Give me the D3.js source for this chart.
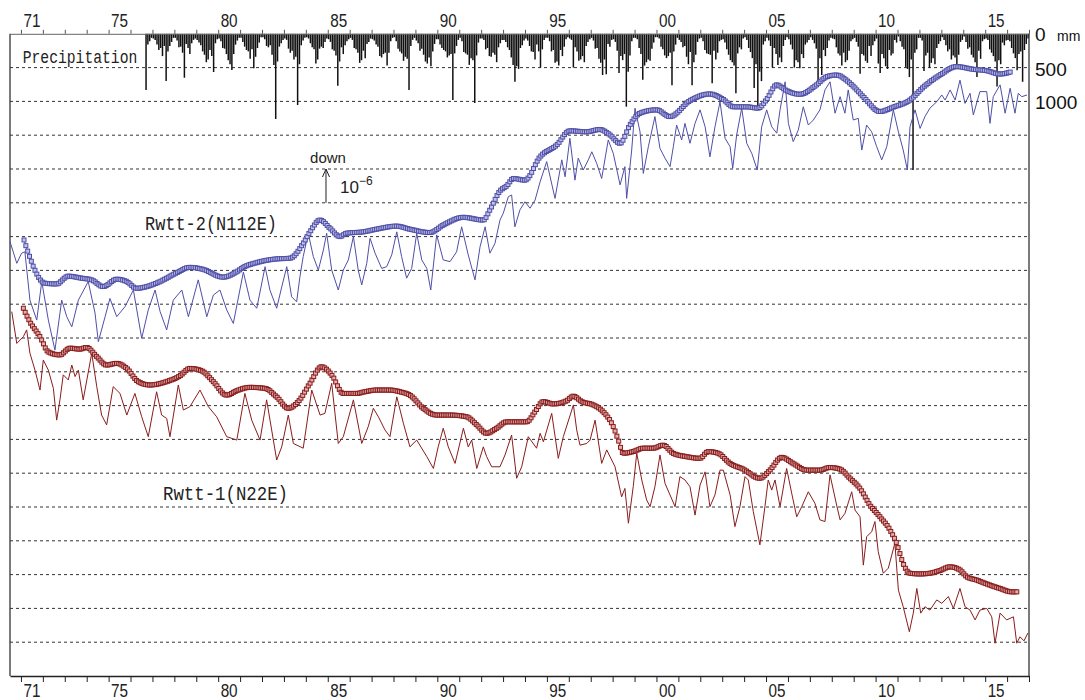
<!DOCTYPE html>
<html>
<head>
<meta charset="utf-8">
<script src="https://cdn.jsdelivr.net/npm/d3@7"></script>
<style>
  body { margin: 0; background: #fff; }
  svg { display: block; }
</style>
</head>
<body>
<svg id="chart" width="1085" height="700"></svg>
<script>
// ---- data (strain in 1e-6 units, one grid step = 1e-6; time in decimal years) ----
var yearTicks = d3.range(1971, 2018);
var yearLabels = [1971, 1975, 1980, 1985, 1990, 1995, 2000, 2005, 2010, 2015];
var gridLevels = d3.range(1, 19);
var precipLabels = [500, 1000];

// monthly precipitation (mm), from Sep 1976
var precipStart = 1976 + 8 / 12;
var precip = [
  830, 160, 110, 60,
  70, 90, 160, 240, 210, 330, 180, 700, 260, 180, 120, 60,
  60, 100, 200, 190, 280, 650, 150, 210, 300, 140, 90, 70,
  90, 130, 170, 260, 310, 420, 380, 240, 330, 565, 140, 80,
  70, 110, 210, 220, 300, 390, 450, 535, 300, 160, 100, 60,
  60, 120, 190, 240, 260, 370, 230, 510, 340, 210, 130, 50,
  50, 80, 180, 200, 170, 310, 460, 1260, 410, 190, 140, 90,
  70, 90, 220, 280, 250, 380, 340, 1053, 450, 170, 100, 60,
  50, 70, 140, 200, 230, 440, 380, 220, 190, 210, 120, 70,
  80, 120, 230, 250, 320, 770, 410, 200, 300, 170, 110, 80,
  60, 90, 210, 230, 280, 430, 390, 250, 360, 150, 120, 70,
  80, 100, 160, 190, 330, 350, 300, 280, 470, 280, 110, 60,
  50, 110, 220, 260, 290, 400, 340, 370, 830, 180, 90, 60,
  100, 140, 250, 220, 310, 410, 440, 350, 480, 260, 150, 80,
  80, 160, 210, 240, 260, 350, 320, 300, 980, 290, 180, 90,
  60, 110, 270, 290, 310, 460, 360, 390, 1025, 320, 130, 70,
  70, 90, 230, 210, 330, 340, 280, 310, 420, 200, 140, 90,
  90, 120, 200, 240, 350, 460, 710, 480, 520, 210, 170, 100,
  70, 100, 180, 260, 270, 380, 160, 260, 500, 230, 90, 60,
  60, 110, 260, 240, 430, 410, 470, 240, 330, 190, 80, 50,
  70, 90, 500, 200, 260, 400, 380, 330, 420, 180, 120, 80,
  60, 100, 220, 210, 370, 430, 610, 380, 600, 150, 190, 90,
  80, 120, 250, 580, 330, 390, 300, 1078, 560, 320, 110, 60,
  60, 80, 210, 300, 680, 470, 420, 380, 400, 220, 130, 50,
  50, 70, 190, 230, 320, 360, 330, 280, 760, 260, 160, 60,
  90, 120, 200, 180, 340, 450, 270, 760, 420, 310, 120, 70,
  60, 110, 240, 290, 300, 310, 730, 250, 380, 280, 110, 90,
  80, 130, 230, 310, 390, 420, 470, 880, 290, 200, 230, 70,
  50, 90, 210, 270, 360, 800, 450, 1078, 560, 700, 160, 110,
  60, 100, 180, 500, 210, 300, 460, 350, 420, 180, 90, 50,
  80, 160, 230, 500, 390, 420, 510, 300, 360, 160, 130, 90,
  50, 90, 140, 220, 700, 360, 610, 240, 330, 210, 100, 60,
  70, 80, 200, 290, 320, 470, 280, 420, 390, 250, 110, 80,
  60, 120, 190, 590, 300, 320, 400, 430, 180, 330, 170, 110,
  70, 440, 580, 300, 360, 480, 520, 240, 320, 290, 90, 130,
  40, 110, 190, 230, 490, 520, 640, 380, 2015, 280, 230, 60,
  60, 100, 550, 320, 280, 500, 430, 360, 450, 210, 150, 110,
  50, 90, 170, 260, 230, 380, 320, 350, 460, 310, 120, 90,
  40, 120, 220, 200, 310, 350, 420, 640, 250, 370, 110, 80,
  70, 90, 230, 280, 330, 410, 780, 390, 450, 130, 170, 100,
  90, 110, 210, 290, 360, 540, 300, 260, 710, 240, 150, 70];

// Rwtt-2 (N112E), running mean and raw
var rwtt2Avg = [[1971.14,12.90],[1972.10,11.62],[1972.63,11.60],[1973.16,11.83],[1973.77,11.77],[1974.23,11.72],
  [1974.76,11.52],[1975.37,11.74],[1975.83,11.67],[1976.28,11.47],[1976.74,11.52],[1977.35,11.67],[1978.11,11.93],
  [1978.71,12.09],[1979.32,12.03],[1980.23,11.80],[1980.85,11.96],[1981.15,12.09],[1981.76,12.23],[1982.67,12.34],
  [1983.28,12.36],[1983.88,12.80],[1984.19,13.14],[1984.65,13.49],[1985.10,13.25],[1985.56,13.00],[1985.86,13.10],
  [1986.62,13.14],[1987.23,13.22],[1988.15,13.31],[1988.75,13.22],[1989.67,13.12],[1990.27,13.34],[1991.19,13.57],
  [1992.10,13.49],[1992.40,13.79],[1992.86,14.35],[1993.17,14.50],[1993.47,14.72],[1994.00,14.67],[1994.69,15.36],
  [1995.45,15.71],[1996.05,16.13],[1996.82,16.10],[1997.42,16.17],[1997.88,16.01],[1998.34,15.76],[1998.79,16.30],
  [1999.25,16.65],[2000.01,16.75],[2000.62,16.55],[2001.53,17.02],[2002.44,17.22],[2003.05,17.06],[2003.51,16.84],
  [2004.12,16.84],[2004.65,16.80],[2005.03,17.06],[2005.49,17.49],[2005.94,17.32],[2006.55,17.21],[2007.31,17.49],
  [2007.77,17.73],[2008.22,17.78],[2008.83,17.54],[2009.44,17.14],[2010.20,16.70],[2010.81,16.83],[2011.57,17.04],
  [2012.18,17.42],[2012.94,17.78],[2013.70,18.03],[2014.46,17.95],[2015.07,17.91],[2015.68,17.81],[2016.21,17.88]];

var rwtt2 = [[1970.50,12.85],[1970.81,12.21],[1971.03,12.51],[1971.18,12.55],[1971.41,11.12],[1971.72,10.53],
  [1971.95,11.67],[1972.25,10.53],[1972.55,9.64],[1972.86,11.12],[1973.09,10.63],[1973.32,10.33],[1973.62,11.12],
  [1974.07,11.67],[1974.38,10.74],[1974.53,9.89],[1974.84,10.63],[1975.06,11.17],[1975.37,10.63],[1975.75,10.93],
  [1976.13,11.42],[1976.51,9.99],[1976.81,10.83],[1977.12,11.42],[1977.35,10.78],[1977.65,10.24],[1977.95,11.12],
  [1978.34,11.42],[1978.64,10.63],[1979.09,11.72],[1979.48,10.63],[1979.78,11.27],[1980.08,11.42],[1980.39,10.83],
  [1980.69,10.43],[1981.15,11.95],[1981.45,11.12],[1981.76,10.88],[1982.14,12.11],[1982.36,11.42],[1982.67,10.88],
  [1982.90,11.51],[1983.13,12.11],[1983.35,11.22],[1983.58,11.07],[1983.73,11.81],[1983.88,12.41],[1984.11,13.10],
  [1984.34,12.41],[1984.57,12.01],[1984.80,12.60],[1984.95,13.10],[1985.18,12.01],[1985.48,11.42],[1985.71,12.01],
  [1985.94,12.31],[1986.17,13.00],[1986.39,12.01],[1986.55,11.57],[1986.78,12.21],[1986.93,12.95],[1987.16,12.51],
  [1987.46,12.06],[1987.69,12.11],[1987.92,12.46],[1988.15,13.14],[1988.37,12.41],[1988.60,11.77],[1988.83,12.06],
  [1989.06,13.10],[1989.29,12.31],[1989.52,12.06],[1989.70,11.42],[1989.97,13.05],[1990.27,12.31],[1990.58,12.26],
  [1990.88,12.55],[1991.11,13.29],[1991.41,12.46],[1991.72,11.72],[1991.95,12.70],[1992.18,13.29],[1992.40,12.51],
  [1992.63,12.80],[1992.86,13.49],[1993.01,13.69],[1993.24,14.18],[1993.39,14.23],[1993.54,13.29],[1993.77,13.79],
  [1994.00,14.03],[1994.23,13.84],[1994.46,14.08],[1994.69,14.62],[1994.99,15.22],[1995.37,14.13],[1995.68,15.27],
  [1995.83,14.77],[1996.05,15.91],[1996.28,14.67],[1996.43,15.32],[1996.66,14.97],[1996.89,15.27],[1997.05,15.51],
  [1997.27,15.17],[1997.50,14.72],[1997.80,15.86],[1998.03,15.46],[1998.34,14.53],[1998.56,15.07],[1998.64,14.13],
  [1998.87,15.56],[1999.02,16.80],[1999.25,16.10],[1999.40,14.87],[1999.63,15.66],[1999.93,16.55],[2000.16,15.61],
  [2000.39,15.32],[2000.62,15.07],[2000.77,15.66],[2000.92,16.30],[2001.15,15.86],[2001.30,16.35],[2001.53,15.76],
  [2001.76,16.35],[2001.99,16.75],[2002.22,16.25],[2002.44,15.36],[2002.67,16.25],[2002.90,16.99],[2003.13,15.91],
  [2003.36,15.66],[2003.48,15.02],[2003.66,16.01],[2003.89,16.80],[2004.12,15.76],[2004.35,15.46],[2004.60,14.97],
  [2004.80,16.25],[2005.03,16.75],[2005.26,16.25],[2005.49,16.06],[2005.64,16.75],[2005.87,17.58],[2006.02,16.35],
  [2006.24,15.81],[2006.47,16.15],[2006.70,16.84],[2006.93,16.30],[2007.16,16.45],[2007.46,16.75],[2007.69,17.34],
  [2007.92,17.58],[2008.15,16.65],[2008.38,17.14],[2008.60,16.65],[2008.75,17.34],[2008.98,16.45],[2009.21,16.50],
  [2009.37,15.56],[2009.59,16.30],[2009.82,16.10],[2010.05,15.66],[2010.28,15.27],[2010.51,15.66],[2010.81,16.75],
  [2011.04,16.10],[2011.26,15.56],[2011.45,14.97],[2011.57,16.25],[2011.80,16.75],[2012.03,16.20],[2012.25,16.55],
  [2012.48,16.80],[2012.79,16.99],[2013.02,17.19],[2013.17,17.04],[2013.40,17.34],[2013.63,17.04],[2013.85,17.63],
  [2014.08,16.94],[2014.31,17.24],[2014.46,16.60],[2014.76,17.29],[2015.07,17.29],[2015.22,16.35],[2015.37,17.14],
  [2015.68,17.49],[2015.91,16.65],[2016.14,17.39],[2016.36,16.65],[2016.51,17.24],[2016.67,17.14],[2016.91,17.19]];

// Rwtt-1 (N22E), running mean and raw
var rwtt1Avg = [[1971.11,10.88],[1971.41,10.48],[1971.87,10.04],[1972.25,9.59],[1972.78,9.50],[1973.24,9.70],
  [1973.69,9.67],[1974.00,9.72],[1974.46,9.45],[1974.91,9.20],[1975.37,9.25],[1975.83,9.10],[1976.35,8.71],
  [1976.89,8.61],[1977.65,8.71],[1978.26,8.88],[1978.71,9.10],[1979.25,9.03],[1979.78,8.71],[1980.39,8.31],
  [1980.85,8.44],[1981.45,8.54],[1982.14,8.51],[1982.67,8.26],[1983.20,7.92],[1983.66,8.12],[1984.19,8.66],
  [1984.72,9.15],[1985.18,8.91],[1985.71,8.36],[1986.32,8.36],[1986.70,8.41],[1987.23,8.46],[1987.84,8.46],
  [1988.30,8.41],[1988.75,8.31],[1989.36,7.92],[1989.97,7.72],[1990.58,7.72],[1991.34,7.67],[1991.80,7.43],
  [1992.25,7.18],[1992.71,7.33],[1993.17,7.52],[1993.69,7.52],[1994.08,7.52],[1994.46,7.82],[1994.84,8.12],
  [1995.29,8.05],[1995.90,8.14],[1996.21,8.28],[1996.59,8.12],[1997.12,8.02],[1997.57,7.82],[1998.03,7.38],
  [1998.26,6.98],[1998.49,6.59],[1998.94,6.64],[1999.40,6.74],[1999.86,6.74],[2000.31,6.83],[2000.77,6.59],
  [2001.38,6.49],[2001.99,6.44],[2002.36,6.64],[2002.82,6.59],[2003.36,6.29],[2003.96,6.12],[2004.72,5.85],
  [2005.18,6.09],[2005.72,6.47],[2006.24,6.29],[2006.86,6.09],[2007.46,6.09],[2007.92,6.17],[2008.38,6.12],
  [2008.83,5.85],[2009.29,5.55],[2009.74,5.06],[2010.20,4.71],[2010.66,4.32],[2010.96,3.93],[2011.26,3.33],
  [2011.57,3.04],[2012.03,3.02],[2012.48,3.04],[2012.94,3.12],[2013.40,3.23],[2013.85,3.14],[2014.16,2.94],
  [2014.61,2.84],[2015.22,2.69],[2015.68,2.59],[2016.21,2.49],[2016.45,2.49]];

var rwtt1 = [[1970.58,10.78],[1970.81,9.84],[1970.96,9.94],[1971.11,10.04],[1971.26,10.24],[1971.41,9.55],
  [1971.64,9.05],[1971.87,8.46],[1972.02,9.35],[1972.25,9.05],[1972.48,8.51],[1972.63,7.57],[1972.78,8.17],
  [1972.93,8.91],[1973.16,8.76],[1973.32,9.20],[1973.47,8.86],[1973.62,9.05],[1973.84,8.17],[1974.23,9.55],
  [1974.46,8.56],[1974.68,7.72],[1974.91,7.43],[1975.21,8.56],[1975.52,8.36],[1975.83,7.72],[1976.20,8.36],
  [1976.51,7.67],[1976.81,7.08],[1977.19,8.41],[1977.42,7.72],[1977.65,7.62],[1977.80,7.08],[1978.18,8.61],
  [1978.41,7.87],[1978.71,7.97],[1979.17,8.46],[1979.55,7.97],[1979.93,7.67],[1980.39,7.08],[1980.85,6.98],
  [1981.22,8.36],[1981.53,7.57],[1981.91,6.98],[1982.21,8.17],[1982.67,6.39],[1982.90,6.78],[1983.20,7.72],
  [1983.43,6.88],[1983.88,6.74],[1984.27,8.46],[1984.65,7.72],[1984.87,7.77],[1985.18,8.66],[1985.48,6.88],
  [1985.71,7.08],[1986.17,8.17],[1986.55,6.88],[1986.85,7.38],[1987.08,7.92],[1987.31,7.67],[1987.61,7.28],
  [1987.84,7.08],[1988.15,8.26],[1988.45,7.48],[1988.75,6.78],[1989.06,6.98],[1989.52,6.49],[1989.82,6.14],
  [1990.04,6.78],[1990.27,7.33],[1990.50,6.78],[1990.81,6.29],[1991.19,7.33],[1991.41,6.78],[1991.57,6.98],
  [1991.80,6.14],[1992.10,6.78],[1992.25,6.49],[1992.48,6.19],[1992.86,6.19],[1993.09,6.54],[1993.39,7.13],
  [1993.62,5.85],[1993.85,6.19],[1994.15,7.08],[1994.53,6.74],[1994.69,7.18],[1994.84,6.93],[1995.22,7.77],
  [1995.52,6.44],[1995.75,7.08],[1996.21,8.02],[1996.36,7.28],[1996.51,6.83],[1996.82,6.88],[1996.97,6.98],
  [1997.20,7.57],[1997.50,6.29],[1997.73,6.69],[1998.11,6.19],[1998.41,5.30],[1998.56,5.55],[1998.72,4.52],
  [1998.94,5.60],[1999.10,6.59],[1999.33,5.80],[1999.55,5.21],[1999.71,5.01],[1999.93,5.60],[2000.16,6.54],
  [2000.39,5.70],[2000.85,5.01],[2001.07,5.90],[2001.30,5.80],[2001.53,5.60],[2001.76,4.76],[2001.99,5.65],
  [2002.22,6.04],[2002.44,5.01],[2002.67,5.36],[2002.90,6.09],[2003.05,6.09],[2003.36,5.36],[2003.58,4.42],
  [2003.81,5.01],[2004.04,5.90],[2004.19,5.80],[2004.42,4.86],[2004.72,3.88],[2004.95,5.01],[2005.10,5.80],
  [2005.26,5.50],[2005.41,5.80],[2005.64,5.01],[2005.94,6.14],[2006.17,5.41],[2006.40,4.71],[2006.63,5.01],
  [2006.93,5.45],[2007.23,5.11],[2007.46,4.62],[2007.69,4.57],[2007.92,5.95],[2008.22,5.06],[2008.38,4.62],
  [2008.60,4.81],[2008.91,5.45],[2009.06,4.91],[2009.29,4.71],[2009.44,3.28],[2009.59,4.12],[2009.82,4.27],
  [2009.97,4.57],[2010.12,3.68],[2010.35,3.04],[2010.58,3.19],[2010.88,3.93],[2011.04,2.54],[2011.26,2.05],
  [2011.54,1.31],[2011.72,1.86],[2011.88,2.59],[2012.06,1.86],[2012.25,2.05],[2012.48,1.95],[2012.79,2.25],
  [2013.02,2.15],[2013.32,2.35],[2013.55,2.00],[2013.85,2.59],[2014.08,2.05],[2014.31,1.95],[2014.54,1.66],
  [2014.76,1.95],[2015.07,2.00],[2015.30,1.75],[2015.45,0.97],[2015.68,1.86],[2015.98,1.66],[2016.29,1.75],
  [2016.44,0.97],[2016.59,1.16],[2016.77,1.04],[2016.95,1.27]];

// ---- scales ----
var svg = d3.select("#chart");
var x = d3.scaleLinear().domain([1970.5, 2017]).range([10, 1029]);
var y = d3.scaleLinear().domain([0, 19]).range([676, 33.8]);
var yP = d3.scaleLinear().domain([0, 1000]).range([33.8, 101.4]);
var two = function(yr){ return d3.format("02d")(yr % 100); };
var sans = "'Liberation Sans',Arial,sans-serif";
var mono = "'Liberation Mono','DejaVu Sans Mono',monospace";

// grid
svg.append("g").selectAll("line").data(gridLevels).enter().append("line")
  .attr("x1", x.range()[0]).attr("x2", x.range()[1])
  .attr("y1", function(d){ return y(d); }).attr("y2", function(d){ return y(d); })
  .attr("stroke", "#333").attr("stroke-width", 1).attr("stroke-dasharray", "3,3");

// precipitation bars, hanging from the top axis
svg.append("g").selectAll("line").data(precip).enter().append("line")
  .attr("x1", function(d, i){ return x(precipStart + (i + 0.5) / 12); })
  .attr("x2", function(d, i){ return x(precipStart + (i + 0.5) / 12); })
  .attr("y1", yP(0)).attr("y2", function(d){ return yP(d); })
  .attr("stroke", "#111").attr("stroke-width", 1.5);

// frame and axes
var topAxis = svg.append("g").attr("transform", "translate(0," + yP(0) + ")")
  .call(d3.axisTop(x).tickValues(yearTicks).tickSize(4).tickSizeOuter(0).tickFormat(""));
topAxis.select(".domain").attr("stroke", "#666");
topAxis.selectAll(".tick line").attr("stroke", "#555");
var botAxis = svg.append("g").attr("transform", "translate(0," + y(0) + ")")
  .call(d3.axisBottom(x).tickValues(yearTicks).tickSize(6).tickSizeOuter(0).tickFormat(""));
botAxis.select(".domain").attr("stroke", "#222").attr("stroke-width", 1.3);
botAxis.selectAll(".tick line").attr("stroke", "#222");
[x.range()[0], x.range()[1]].forEach(function(px){
  svg.append("line").attr("x1", px).attr("x2", px).attr("y1", yP(0)).attr("y2", y(0))
    .attr("stroke", "#333").attr("stroke-width", 1.3);
});

// year labels top and bottom (narrow digits)
[27, 697].forEach(function(ty){
  svg.append("g").selectAll("text").data(yearLabels).enter().append("text")
    .attr("x", function(d){ return x(d + 0.5) - 8.5; }).attr("y", ty)
    .attr("font-family", sans).attr("font-size", 18)
    .attr("textLength", 17).attr("lengthAdjust", "spacingAndGlyphs")
    .attr("fill", "#222").text(two);
});

// precipitation scale labels
svg.append("text").attr("x", 1035).attr("y", yP(0) + 7).attr("font-family", sans)
  .attr("font-size", 19).attr("fill", "#111").text("0");
svg.append("text").attr("x", 1057).attr("y", yP(0) + 7).attr("font-family", sans)
  .attr("font-size", 14).attr("fill", "#111").text("mm");
svg.append("g").selectAll("text").data(precipLabels).enter().append("text")
  .attr("x", 1035).attr("y", function(d){ return yP(d) + 8; })
  .attr("font-family", sans).attr("font-size", 19).attr("fill", "#111")
  .text(function(d){ return d; });

svg.append("text").attr("x", 22.7).attr("y", 63).attr("font-family", mono).attr("font-size", 19)
  .attr("textLength", 114.6).attr("lengthAdjust", "spacingAndGlyphs").attr("fill", "#222").text("Precipitation");

// series
function drawSeries(raw, avg, col, light) {
  var g = svg.append("g");
  g.append("path").datum(raw)
    .attr("d", d3.line().x(function(d){ return x(d[0]); }).y(function(d){ return y(d[1]); }))
    .attr("fill", "none").attr("stroke", col).attr("stroke-width", 1);
  var path = g.append("path").datum(avg)
    .attr("d", d3.line().curve(d3.curveMonotoneX).x(function(d){ return x(d[0]); }).y(function(d){ return y(d[1]); }))
    .attr("fill", "none").attr("stroke", col).attr("stroke-width", 1);
  // one square marker per month along the running-mean curve
  var node = path.node(), L = node.getTotalLength(), pts = [];
  for (var l = 0; l <= L; l += 0.25) pts.push(node.getPointAtLength(l));
  var t0 = avg[0][0], t1 = avg[avg.length - 1][0], marks = [], j = 0;
  for (var t = t0; t <= t1 + 1e-6; t += 1 / 12) {
    var px = x(t);
    while (j < pts.length - 1 && pts[j].x < px) j++;
    marks.push([px, pts[j].y]);
  }
  g.append("g").selectAll("rect").data(marks).enter().append("rect")
    .attr("x", function(d){ return d[0] - 2; }).attr("y", function(d){ return d[1] - 2; })
    .attr("width", 4).attr("height", 4)
    .attr("fill", light).attr("stroke", col).attr("stroke-width", 1);
}
drawSeries(rwtt2, rwtt2Avg, "#4f4fa8", "#c4c4ea");
drawSeries(rwtt1, rwtt1Avg, "#8a1c1c", "#e2b0b0");

// labels
svg.append("text").attr("x", 145).attr("y", 230).attr("font-family", mono).attr("font-size", 20)
  .attr("textLength", 132).attr("lengthAdjust", "spacingAndGlyphs").attr("fill", "#222").text("Rwtt-2(N112E)");
svg.append("text").attr("x", 163).attr("y", 500).attr("font-family", mono).attr("font-size", 20)
  .attr("textLength", 125).attr("lengthAdjust", "spacingAndGlyphs").attr("fill", "#222").text("Rwtt-1(N22E)");

// scale arrow: one grid step = 1e-6
var ax = x(1984.92);
svg.append("line").attr("x1", ax).attr("x2", ax).attr("y1", y(14)).attr("y2", y(15))
  .attr("stroke", "#222").attr("stroke-width", 1);
svg.append("path").attr("d", "M" + (ax - 3.5) + "," + (y(15) + 8) + "L" + ax + "," + y(15) + "L" + (ax + 3.5) + "," + (y(15) + 8))
  .attr("fill", "none").attr("stroke", "#222").attr("stroke-width", 1);
svg.append("text").attr("x", ax + 2).attr("y", y(15) - 6).attr("text-anchor", "middle")
  .attr("font-family", sans).attr("font-size", 15).attr("fill", "#222").text("down");
var lab = svg.append("text").attr("x", ax + 14).attr("y", y(14) - 10)
  .attr("font-family", sans).attr("font-size", 17).attr("fill", "#222");
lab.append("tspan").text("10");
lab.append("tspan").attr("dy", -8).attr("font-size", 12).text("\u22126");
</script>
</body>
</html>
